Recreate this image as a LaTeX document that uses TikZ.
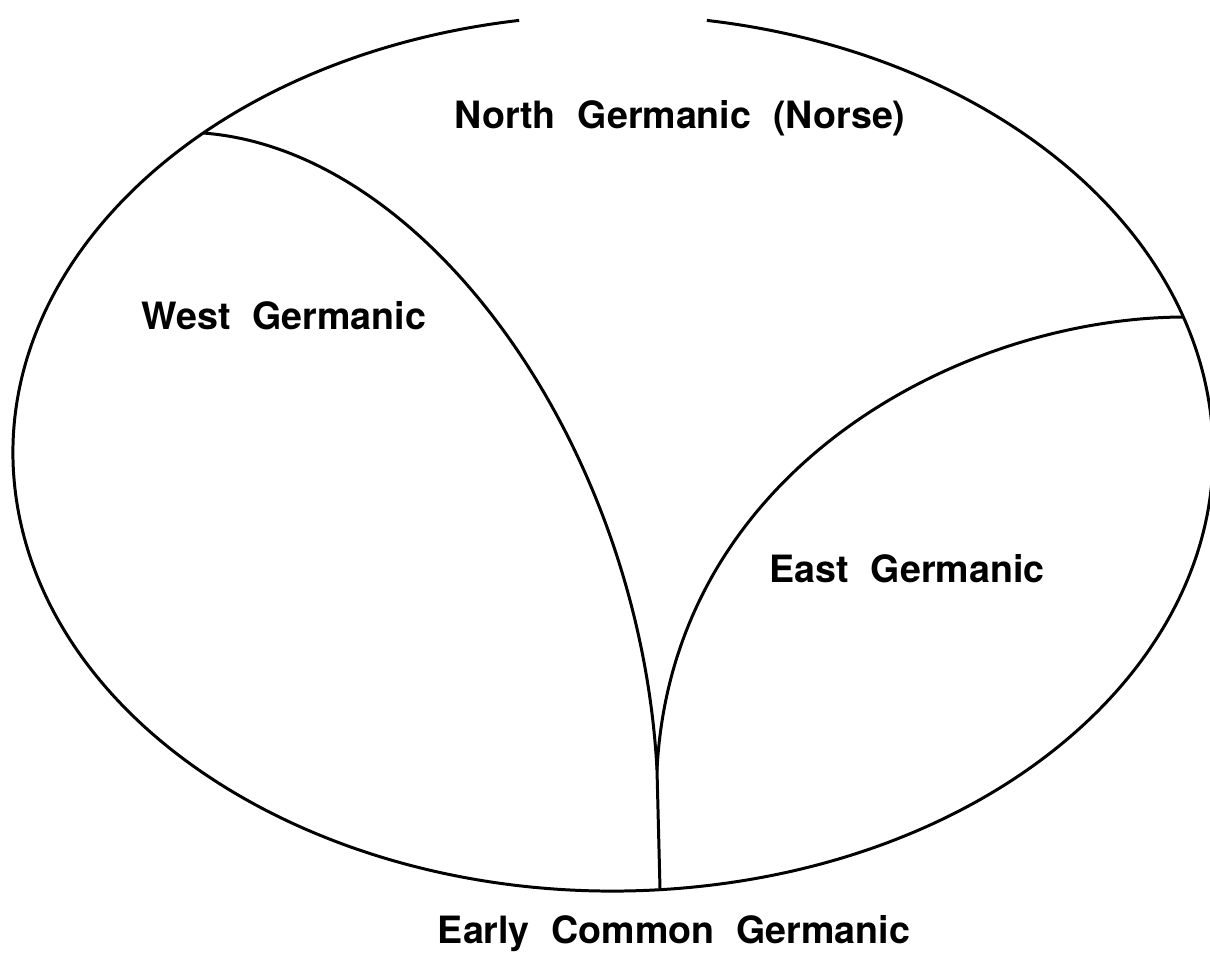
\documentclass[tikz,border=0pt]{standalone}
\usepackage{fontspec}
\setmainfont{TeX Gyre Heros}[WordSpace=2.1]

\begin{document}
\begin{tikzpicture}[line width=.85pt,
  lbl/.style={anchor=base,inner sep=0pt,font=\fontsize{10.7}{12}\selectfont\bfseries}]
\useasboundingbox (0,0) rectangle (12.10,-9.52);
% outer boundary, open at the top
\draw (6.13,-4.53) ++(99:6 and 4.38) arc[start angle=99,end angle=441,x radius=6,y radius=4.38];
\coordinate (wj) at (2.03,-1.33);
\coordinate (ej) at (11.83,-3.17);
\coordinate (cusp) at (6.57,-7.70);
\coordinate (root) at (6.60,-8.89);
\draw (wj) .. controls (4.30,-1.50) and (6.40,-4.50) .. (cusp);
\draw (ej) .. controls (9.60,-3.18) and (6.72,-4.70) .. (cusp);
\draw (cusp)--(root);
\node[lbl] (north) at (6.80,-1.28) {North Germanic (Norse)};
\node[lbl] (west) at (2.84,-3.29) {West Germanic};
\node[lbl] (east) at (9.07,-5.82) {East Germanic};
\node[lbl] (early) at (6.74,-9.43) {Early Common Germanic};
\end{tikzpicture}
\end{document}
